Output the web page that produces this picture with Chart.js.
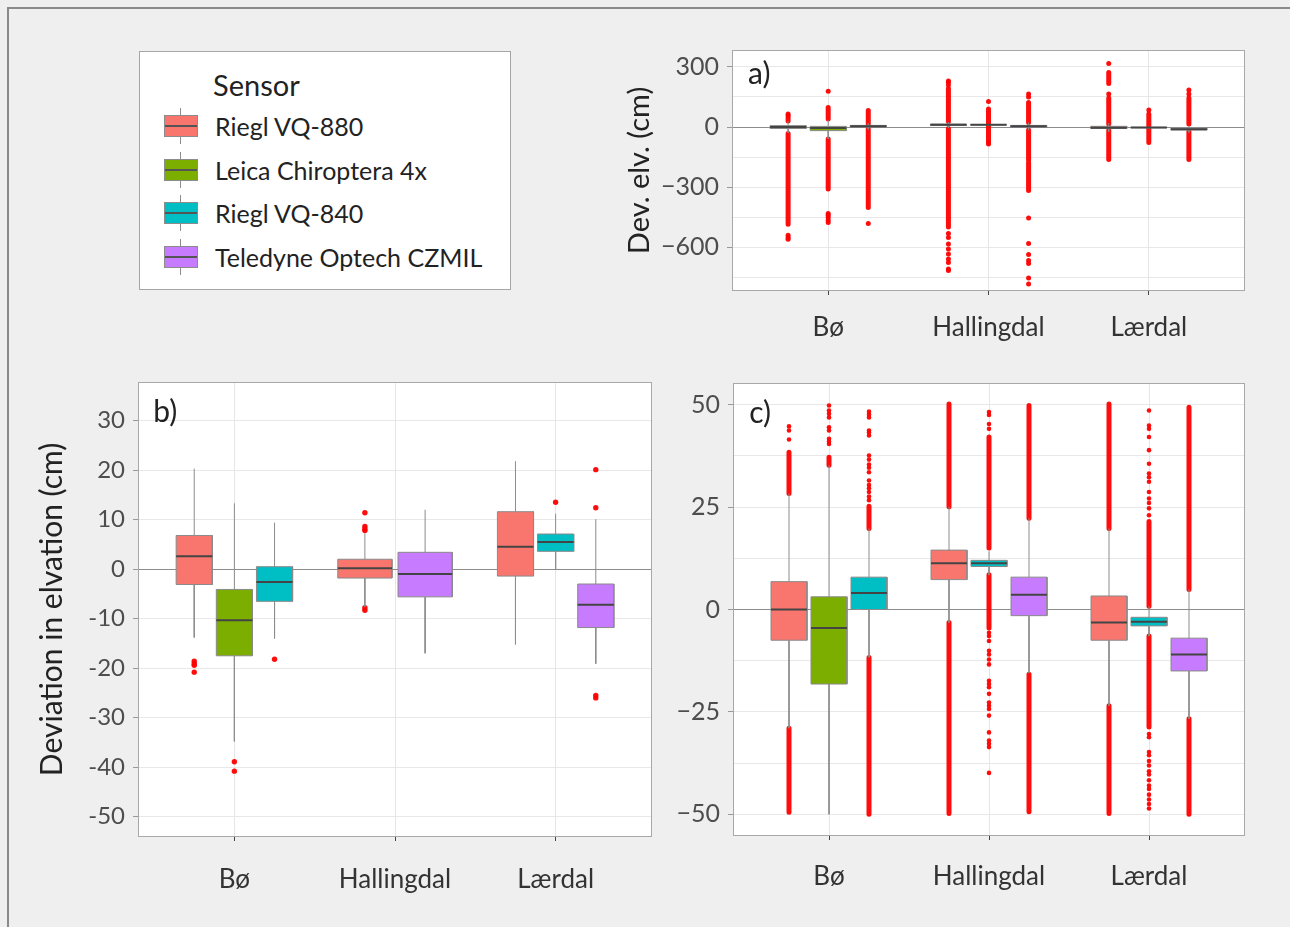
<!DOCTYPE html>
<html>
<head>
<meta charset="utf-8">
<title>Deviation in elevation by sensor</title>
<script src="https://cdn.jsdelivr.net/npm/chart.js@4.4.1/dist/chart.umd.min.js"></script>
<style>
  html, body { margin: 0; padding: 0; background: #efefef; }
  body { width: 1290px; height: 927px; position: relative; overflow: hidden; font-family: Lato, sans-serif; }
  .frame { position: absolute; left: 7px; top: 7px; width: 1300px; height: 940px; border-left: 2px solid #8a8a8a; border-top: 2px solid #8a8a8a; }
  .panel { position: absolute; }
  #legend { position: absolute; left: 139px; top: 51px; width: 372px; height: 239px; background: #fff; border: 1px solid #a6a6a6; box-sizing: border-box; }
  #legend .title { position: absolute; left: 73px; top: 15px; font-size: 29px; color: #222; line-height: 36px; }
  #legend .item { position: absolute; left: 0; width: 370px; height: 40px; }
  #legend .key { position: absolute; left: 24px; top: 0; width: 34px; height: 40px; }
  #legend .wh { position: absolute; left: 16px; top: 2px; width: 1px; height: 36px; background: #8c8c8c; }
  #legend .box { position: absolute; left: 0; top: 9px; width: 32px; height: 20px; border: 1px solid #8c8c8c; }
  #legend .med { position: absolute; left: 0; right: 0; top: 9px; height: 2px; background: #555; }
  #legend .label { position: absolute; left: 75px; top: 3px; font-size: 25px; color: #222; line-height: 34px; white-space: nowrap; }
</style>
</head>
<body>
<div class="frame"></div>
<div id="legend"><div class="title">Sensor</div></div>
<div class="panel" style="left:620px; top:40px; width:640px; height:320px;"><canvas id="chartA"></canvas></div>
<div class="panel" style="left:20px; top:372px; width:650px; height:540px;"><canvas id="chartB"></canvas></div>
<div class="panel" style="left:660px; top:373px; width:600px; height:540px;"><canvas id="chartC"></canvas></div>
<script>
// Sites and sensors
const sites = ['Bø', 'Hallingdal', 'Lærdal'];
const sensors = ['Riegl VQ-880', 'Leica Chiroptera 4x', 'Riegl VQ-840', 'Teledyne Optech CZMIL'];
const sensorColors = ['#F8766D', '#7CAE00', '#00BFC4', '#C77CFF'];

// a) full range, cm (one entry per box)
const aSite = [0, 0, 0, 1, 1, 1, 2, 2, 2];
const aSensor = [0, 1, 2, 0, 2, 3, 0, 2, 3];
const aLow = [-30, -60, -11.7, -3.2, 8.4, -15.5, -23.7, -6.6, -26.6];
const aQ1 = [-7.5, -18.2, 0, 7.3, 10.5, -1.5, -7.5, -4.0, -15.0];
const aMed = [0, -4.5, 4.0, 11.3, 11.3, 3.6, -3.2, -3.0, -11.0];
const aQ3 = [6.8, 3.1, 7.9, 14.5, 12.0, 7.9, 3.3, -1.9, -7.0];
const aHigh = [28.3, 35.2, 19.8, 25.0, 14.3, 22.4, 19.6, 0.7, 4.8];
// dense outlier runs [from, to] and single outliers
const aRuns = [
  [[30, 48], [-32, -486]],
  [[40, 98], [-60, -310]],
  [[15, 82], [-10, -402]],
  [[27, 193], [-7, -500]],
  [[14, 90], [-68, 8.5]],
  [[23, 123], [-15, -168], [-177, -318]],
  [[218, 273], [15, 145], [-18, -163]],
  [[0.8, 65], [-77, -6.5]],
  [[15, 145], [-22, -163]]
];
const aPoints = [
  [58, 65, -541, -552, -561],
  [179, -432, -441, -452, -466, -477],
  [-482],
  [230, 224, 210, -532, -552, -585, -610, -635, -660, -677, -710, -718],
  [128, -77, -85],
  [165, 150, -455, -582, -638, -668, -682, -755, -785],
  [318, 165],
  [85],
  [185, 165]
];
const aTicks = [-750, -600, -450, -300, -150, 0, 150, 300];
const aLabelled = [-600, -300, 0, 300];

// b)
const bSite = [0, 0, 0, 1, 1, 2, 2, 2];
const bSensor = [0, 1, 2, 0, 3, 0, 2, 3];
const bLow = [-13.8, -34.8, -14.0, -7.6, -17.0, -15.2, 0.0, -19.1];
const bQ1 = [-3.1, -17.5, -6.5, -1.8, -5.6, -1.4, 3.6, -11.8];
const bMed = [2.6, -10.3, -2.6, 0.2, -1.0, 4.5, 5.5, -7.2];
const bQ3 = [6.8, -4.1, 0.5, 2.0, 3.4, 11.6, 7.1, -3.0];
const bHigh = [20.3, 13.3, 9.4, 7.2, 12.0, 21.8, 11.2, 10.1];
const bPoints = [
  [-18.6, -19.1, -19.4, -20.8],
  [-38.9, -40.8],
  [-18.2],
  [11.4, 8.6, 8.1, 7.8, -7.8, -8.3],
  [],
  [],
  [13.5],
  [20.1, 12.4, -25.5, -26.0]
];
const bTicks = [-50, -40, -30, -20, -10, 0, 10, 20, 30];

// c) clipped to +-50 cm
const cSite = [0, 0, 0, 1, 1, 1, 2, 2, 2];
const cSensor = [0, 1, 2, 0, 2, 3, 0, 2, 3];
const cLow = [-29, -50, -11.7, -3.2, 8.4, -15.5, -23.5, -6.5, -26.7];
const cQ1 = [-7.5, -18.2, 0, 7.3, 10.5, -1.5, -7.5, -4.0, -15.0];
const cMed = [0, -4.5, 4.0, 11.3, 11.3, 3.6, -3.2, -3.0, -11.0];
const cQ3 = [6.8, 3.1, 7.9, 14.5, 12.0, 7.9, 3.3, -1.9, -7.0];
const cHigh = [28.3, 35.2, 19.8, 25.1, 14.2, 22.3, 19.8, 0.8, 4.9];
const cRuns = [
  [[28.3, 38.4], [-29, -49.5]],
  [[35.2, 37.2]],
  [[19.8, 25.2], [-11.7, -50]],
  [[25.1, 50.2], [-3.2, -49.8]],
  [[15, 42.1], [8.5, -4.5]],
  [[22.3, 49.8], [-15.8, -49.4]],
  [[19.8, 50.2], [-23.5, -49.8]],
  [[0.8, 21.5], [-6.5, -28.7]],
  [[4.9, 49.4], [-26.7, -50]]
];
const cPoints = [
  [41.5, 43.7, 44.7],
  [40.4, 41.0, 41.7, 43.7, 44.5, 46.9, 47.8, 48.6, 49.8],
  [26.7, 27.6, 28.7, 29.6, 30.4, 31.5, 33.5, 34.6, 35.4, 36.6, 37.6, 42.5, 43.2, 43.7, 46.9, 47.6, 48.3],
  [],
  [48.2, 47.5, 45.3, 44.1, -5.7, -6.5, -7.7, -10.1, -11.0, -12.2, -13.4, -17.4, -18.2, -19.0, -20.6, -22.7, -23.5, -24.3, -25.9, -30.0, -32.0, -32.8, -33.6, -39.9],
  [],
  [],
  [48.6, 44.9, 44.1, 42.1, 38.9, 35.6, 33.2, 32.3, 31.2, 28.7, 27.1, 26.0, 24.7, 23.0, -30.4, -31.2, -34.8, -35.6, -37.0, -38.1, -39.5, -40.3, -41.7, -43.0, -43.8, -45.2, -46.4, -47.5, -48.6],
  []
];
const cTicks = [-50, -37.5, -25, -12.5, 0, 12.5, 25, 37.5, 50];
const cLabelled = [-50, -25, 0, 25, 50];

const FONT = 'Lato, sans-serif';

// Legend
const legend = document.getElementById('legend');
sensors.forEach((name, i) => {
  const item = document.createElement('div');
  item.className = 'item';
  item.style.top = (54 + i * 43.7) + 'px';
  item.innerHTML = '<div class="key"><div class="wh"></div><div class="box" style="background:' +
    sensorColors[i] + '"><div class="med"></div></div></div><div class="label">' + name + '</div>';
  legend.appendChild(item);
});

// box positions: dodge width 0.75, box takes 90% of its slot
function boxCenters(siteIdx) {
  const counts = [0, 0, 0];
  siteIdx.forEach(s => counts[s]++);
  const seen = [0, 0, 0];
  return siteIdx.map(s => {
    const slot = 0.75 / counts[s];
    const k = seen[s]++;
    return { x: s + 1 - 0.375 + slot * (k + 0.5), w: slot * 0.9 };
  });
}

function buildDatasets(p) {
  const pos = boxCenters(p.site);
  const medians = [], whiskers = [], runs = [], points = [], boxes = [];
  p.site.forEach((s, i) => {
    const { x, w } = pos[i];
    const l = x - w / 2, r = x + w / 2;
    boxes.push({
      data: [{ x: l, y: p.q1[i] }, { x: l, y: p.q3[i] }, { x: r, y: p.q3[i] }, { x: r, y: p.q1[i] }, { x: l, y: p.q1[i] }],
      fill: 'shape',
      backgroundColor: sensorColors[p.sensor[i]],
      borderColor: '#8a8a8a',
      borderWidth: 1,
      pointRadius: 0
    });
    medians.push({ x: l, y: p.med[i] }, { x: r, y: p.med[i] }, { x: r, y: null });
    whiskers.push({ x, y: p.q3[i] }, { x, y: p.high[i] }, { x, y: null },
                  { x, y: p.q1[i] }, { x, y: p.low[i] }, { x, y: null });
    (p.runs ? p.runs[i] : []).forEach(([a, b]) => runs.push({ x, y: a }, { x, y: b }, { x, y: null }));
    (p.points[i] || []).forEach(v => points.push({ x, y: v }));
  });
  return [
    { data: medians, borderColor: '#444', borderWidth: 2, pointRadius: 0, fill: false },
    ...boxes,
    { data: whiskers, borderColor: '#8c8c8c', borderWidth: 1, pointRadius: 0, fill: false },
    { data: runs, borderColor: 'rgba(255,0,0,0.95)', borderWidth: p.runWidth || 5, borderCapStyle: 'round', pointRadius: 0, fill: false },
    { data: points, showLine: false, pointRadius: p.dot, pointBackgroundColor: 'rgba(255,0,0,0.95)', pointBorderWidth: 0, fill: false }
  ];
}

const minusFmt = v => (v < 0 ? '\u2212' + Math.abs(v) : String(v));
const hyphenFmt = v => String(v);

const panelFrame = {
  id: 'panelFrame',
  beforeDraw(chart) {
    const { ctx, chartArea: a } = chart;
    ctx.save();
    ctx.fillStyle = '#ffffff';
    ctx.fillRect(a.left, a.top, a.width, a.height);
    ctx.restore();
  },
  afterDraw(chart, args, opts) {
    const { ctx, chartArea: a, scales: { x, y } } = chart;
    ctx.save();
    ctx.strokeStyle = '#a8a8a8';
    ctx.lineWidth = 1;
    ctx.strokeRect(a.left + 0.5, a.top + 0.5, a.width - 1, a.height - 1);
    ctx.font = opts.size + 'px ' + FONT;
    ctx.fillStyle = '#222';
    ctx.textAlign = 'center';
    ctx.textBaseline = 'middle';
    ctx.fillText(opts.tag, x.getPixelForValue(opts.tagX), y.getPixelForValue(opts.tagY));
    ctx.restore();
  }
};

function makePanel(id, p) {
  new Chart(document.getElementById(id), {
    type: 'line',
    data: { datasets: buildDatasets(p) },
    plugins: [panelFrame],
    options: {
      responsive: true,
      maintainAspectRatio: false,
      animation: false,
      events: [],
      layout: { padding: { top: 10, right: p.padRight, left: 0, bottom: 0 } },
      plugins: {
        legend: { display: false },
        tooltip: { enabled: false },
        panelFrame: { tag: p.tag, tagX: 0.57, tagY: p.tagY, size: 30 }
      },
      scales: {
        x: {
          type: 'linear',
          min: 0.4,
          max: 3.6,
          afterBuildTicks: s => { s.ticks = sites.map((_, i) => ({ value: i + 1 })); },
          afterFit: s => { s.height = p.xHeight; s.paddingLeft = 0; s.paddingRight = 0; },
          ticks: {
            callback: v => sites[v - 1],
            font: { family: FONT, size: 26 },
            color: '#333',
            padding: p.xPad,
            maxRotation: 0,
            autoSkip: false
          },
          grid: { color: '#e6e6e6', tickColor: '#444', tickLength: 4 },
          border: { display: false }
        },
        y: {
          type: 'linear',
          min: p.yMin,
          max: p.yMax,
          afterBuildTicks: s => { s.ticks = p.yTicks.map(v => ({ value: v })); },
          afterFit: s => { s.width = p.yWidth; s.paddingTop = 0; s.paddingBottom = 0; },
          ticks: {
            callback: v => (p.labelled.includes(v) ? p.fmt(v) : ''),
            font: { family: FONT, size: p.yFont },
            color: '#4d4d4d',
            padding: 8,
            autoSkip: false
          },
          grid: {
            color: c => (c.tick && c.tick.value === 0 ? '#8c8c8c' : '#e8e8e8'),
            tickColor: c => (c.tick && p.labelled.includes(c.tick.value) ? '#999' : 'rgba(0,0,0,0)'),
            tickLength: 5
          },
          border: { display: false },
          title: {
            display: !!p.yTitle,
            text: p.yTitle,
            font: { family: FONT, size: p.titleSize },
            color: '#222',
            padding: { top: p.titlePad, bottom: 0 }
          }
        }
      }
    }
  });
}

makePanel('chartA', {
  site: aSite, sensor: aSensor, low: aLow, q1: aQ1, med: aMed, q3: aQ3, high: aHigh,
  runs: aRuns, points: aPoints, dot: 2.5, runWidth: 5,
  yMin: -820, yMax: 385, yTicks: aTicks, labelled: aLabelled, fmt: minusFmt,
  yWidth: 112, xHeight: 69, padRight: 15, xPad: 17, yFont: 25,
  yTitle: 'Dev. elv. (cm)', titleSize: 29, titlePad: 2,
  tag: 'a)', tagY: 265
});

makePanel('chartB', {
  site: bSite, sensor: bSensor, low: bLow, q1: bQ1, med: bMed, q3: bQ3, high: bHigh,
  runs: null, points: bPoints, dot: 2.7,
  yMin: -54.1, yMax: 37.8, yTicks: bTicks, labelled: bTicks, fmt: hyphenFmt,
  yWidth: 118, xHeight: 75, padRight: 18, xPad: 23, yFont: 24,
  yTitle: 'Deviation in elvation (cm)', titleSize: 30, titlePad: 14,
  tag: 'b)', tagY: 31.6
});

makePanel('chartC', {
  site: cSite, sensor: cSensor, low: cLow, q1: cQ1, med: cMed, q3: cQ3, high: cHigh,
  runs: cRuns, points: cPoints, dot: 2.3, runWidth: 5,
  yMin: -55.3, yMax: 55.3, yTicks: cTicks, labelled: cLabelled, fmt: minusFmt,
  yWidth: 73, xHeight: 77, padRight: 15, xPad: 21, yFont: 25,
  yTitle: '', titleSize: 29, titlePad: 0,
  tag: 'c)', tagY: 48
});
</script>
</body>
</html>
